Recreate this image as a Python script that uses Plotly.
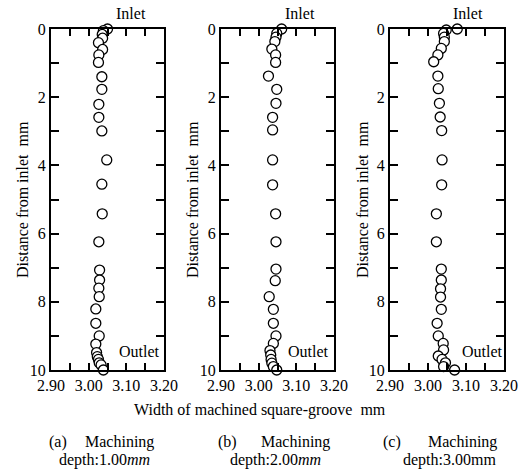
import plotly.graph_objects as go

# ---- data ----
dist_a = [0.00, 0.05, 0.16, 0.27, 0.40, 0.60, 0.76, 0.98, 1.40, 1.77, 2.21, 2.59, 2.99, 3.84, 4.55,
          5.42, 6.24, 7.07, 7.36, 7.60, 7.85, 8.21, 8.63, 9.00, 9.24, 9.49, 9.61, 9.69, 9.79, 9.85, 10.00]
width_a = [3.050, 3.039, 3.036, 3.037, 3.026, 3.037, 3.027, 3.026, 3.035, 3.035, 3.027, 3.027, 3.035, 3.048, 3.035,
           3.036, 3.027, 3.029, 3.029, 3.027, 3.028, 3.019, 3.019, 3.028, 3.019, 3.021, 3.023, 3.026, 3.028, 3.033, 3.039]

dist_b = [0.00, 0.13, 0.24, 0.37, 0.59, 0.76, 0.98, 1.38, 1.77, 2.18, 2.59, 2.96, 3.84, 4.57,
          5.42, 6.24, 7.04, 7.38, 7.85, 8.22, 8.63, 9.00, 9.22, 9.43, 9.56, 9.69, 9.80, 9.90, 10.00]
width_b = [3.061, 3.048, 3.046, 3.043, 3.035, 3.045, 3.045, 3.026, 3.048, 3.046, 3.037, 3.037, 3.037, 3.037,
           3.045, 3.046, 3.046, 3.044, 3.028, 3.039, 3.039, 3.046, 3.039, 3.030, 3.032, 3.033, 3.035, 3.039, 3.048]

dist_c = [0.00, 0.03, 0.13, 0.24, 0.37, 0.57, 0.76, 0.96, 1.38, 1.75, 2.18, 2.58, 2.98, 3.84, 4.57,
          5.42, 6.24, 7.04, 7.36, 7.62, 7.86, 8.22, 8.63, 9.00, 9.22, 9.41, 9.59, 9.69, 9.79, 9.90, 10.00]
width_c = [3.077, 3.048, 3.041, 3.043, 3.043, 3.035, 3.026, 3.015, 3.026, 3.027, 3.030, 3.032, 3.036, 3.037, 3.036,
           3.022, 3.022, 3.035, 3.035, 3.033, 3.033, 3.035, 3.024, 3.027, 3.040, 3.041, 3.027, 3.037, 3.046, 3.041, 3.070]

x_ticks = [2.90, 2.95, 3.00, 3.05, 3.10, 3.15, 3.20]
x_tick_text = ["2.90", "", "3.00", "", "3.10", "", "3.20"]
y_ticks = [0, 1, 2, 3, 4, 5, 6, 7, 8, 9, 10]
y_tick_text = ["0", "", "2", "", "4", "", "6", "", "8", "", "10"]
panel_tags = ["(a)", "(b)", "(c)"]
caption_word = "Machining"
captions_bot = ["depth:1.00<i>mm</i>", "depth:2.00<i>mm</i>", "depth:3.00mm"]
y_title = "Distance from inlet\u00a0\u00a0mm"
x_title = "Width of machined square-groove\u00a0\u00a0mm"

W, H = 525, 471
FONT = "Liberation Serif"

def px(x):
    return x / W

def py(y):
    return 1 - y / H

panels = [(width_a, dist_a), (width_b, dist_b), (width_c, dist_c)]
left_px = [51, 221, 390]
right_px = [164, 334, 504]

fig = go.Figure()
axes_layout = {}
for i, (wx, dy) in enumerate(panels):
    sfx = "" if i == 0 else str(i + 1)
    fig.add_trace(go.Scatter(
        x=wx, y=dy, mode="markers", xaxis="x" + sfx, yaxis="y" + sfx,
        marker=dict(symbol="circle", size=10, color="white",
                    line=dict(color="black", width=1.3)),
        cliponaxis=False, showlegend=False, hoverinfo="skip"))

    axes_layout["xaxis" + sfx] = dict(
        showline=True, linecolor="#000000", linewidth=2, mirror="allticks",
        ticks="inside", tickwidth=1.5, tickcolor="#000000", ticklen=7,
        showgrid=False, zeroline=False, automargin=False,
        tickfont=dict(family=FONT, size=16, color="black"),
        domain=[px(left_px[i]), px(right_px[i])], range=[2.90, 3.20],
        tickmode="array", tickvals=x_ticks, ticktext=x_tick_text, anchor="y" + sfx)
    axes_layout["yaxis" + sfx] = dict(
        showline=True, linecolor="#000000", linewidth=2, mirror="allticks",
        ticks="inside", tickwidth=1.5, tickcolor="#000000", ticklen=8,
        showgrid=False, zeroline=False, automargin=False,
        tickfont=dict(family=FONT, size=16, color="black"),
        domain=[py(370), py(29)], range=[10, 0],
        tickmode="array", tickvals=y_ticks, ticktext=y_tick_text, anchor="x" + sfx)

ann = []
tf = dict(family=FONT, size=16, color="black")
inlet_x = [131, 300, 468]
outlet_x = [139, 308, 482]
title_x = [22, 192, 362]
tag_x = [58, 227, 392]
word_x = [119, 295, 462]
cap_bot_x = [104, 275, 449]
for i in range(3):
    ann.append(dict(text="Inlet", x=px(inlet_x[i]), y=py(14), xref="paper", yref="paper",
                    showarrow=False, font=tf, xanchor="center", yanchor="middle"))
    ann.append(dict(text="Outlet", x=px(outlet_x[i]), y=py(351), xref="paper", yref="paper",
                    showarrow=False, font=tf, xanchor="center", yanchor="middle"))
    ann.append(dict(text=y_title, x=px(title_x[i]), y=py(200), xref="paper", yref="paper",
                    showarrow=False, font=tf, textangle=-90, xanchor="center", yanchor="middle"))
    ann.append(dict(text=panel_tags[i], x=px(tag_x[i]), y=py(442), xref="paper", yref="paper",
                    showarrow=False, font=tf, xanchor="center", yanchor="middle"))
    ann.append(dict(text=caption_word, x=px(word_x[i]), y=py(442), xref="paper", yref="paper",
                    showarrow=False, font=tf, xanchor="center", yanchor="middle"))
    ann.append(dict(text=captions_bot[i], x=px(cap_bot_x[i]), y=py(460), xref="paper", yref="paper",
                    showarrow=False, font=tf, xanchor="center", yanchor="middle"))
ann.append(dict(text=x_title, x=px(260), y=py(410), xref="paper", yref="paper",
                showarrow=False, font=tf, xanchor="center", yanchor="middle"))

fig.update_layout(width=W, height=H, margin=dict(l=0, r=0, t=0, b=0),
                  paper_bgcolor="white", plot_bgcolor="white",
                  font=dict(family=FONT, size=16, color="black"),
                  annotations=ann, **axes_layout)

fig.write_html("out.html")
